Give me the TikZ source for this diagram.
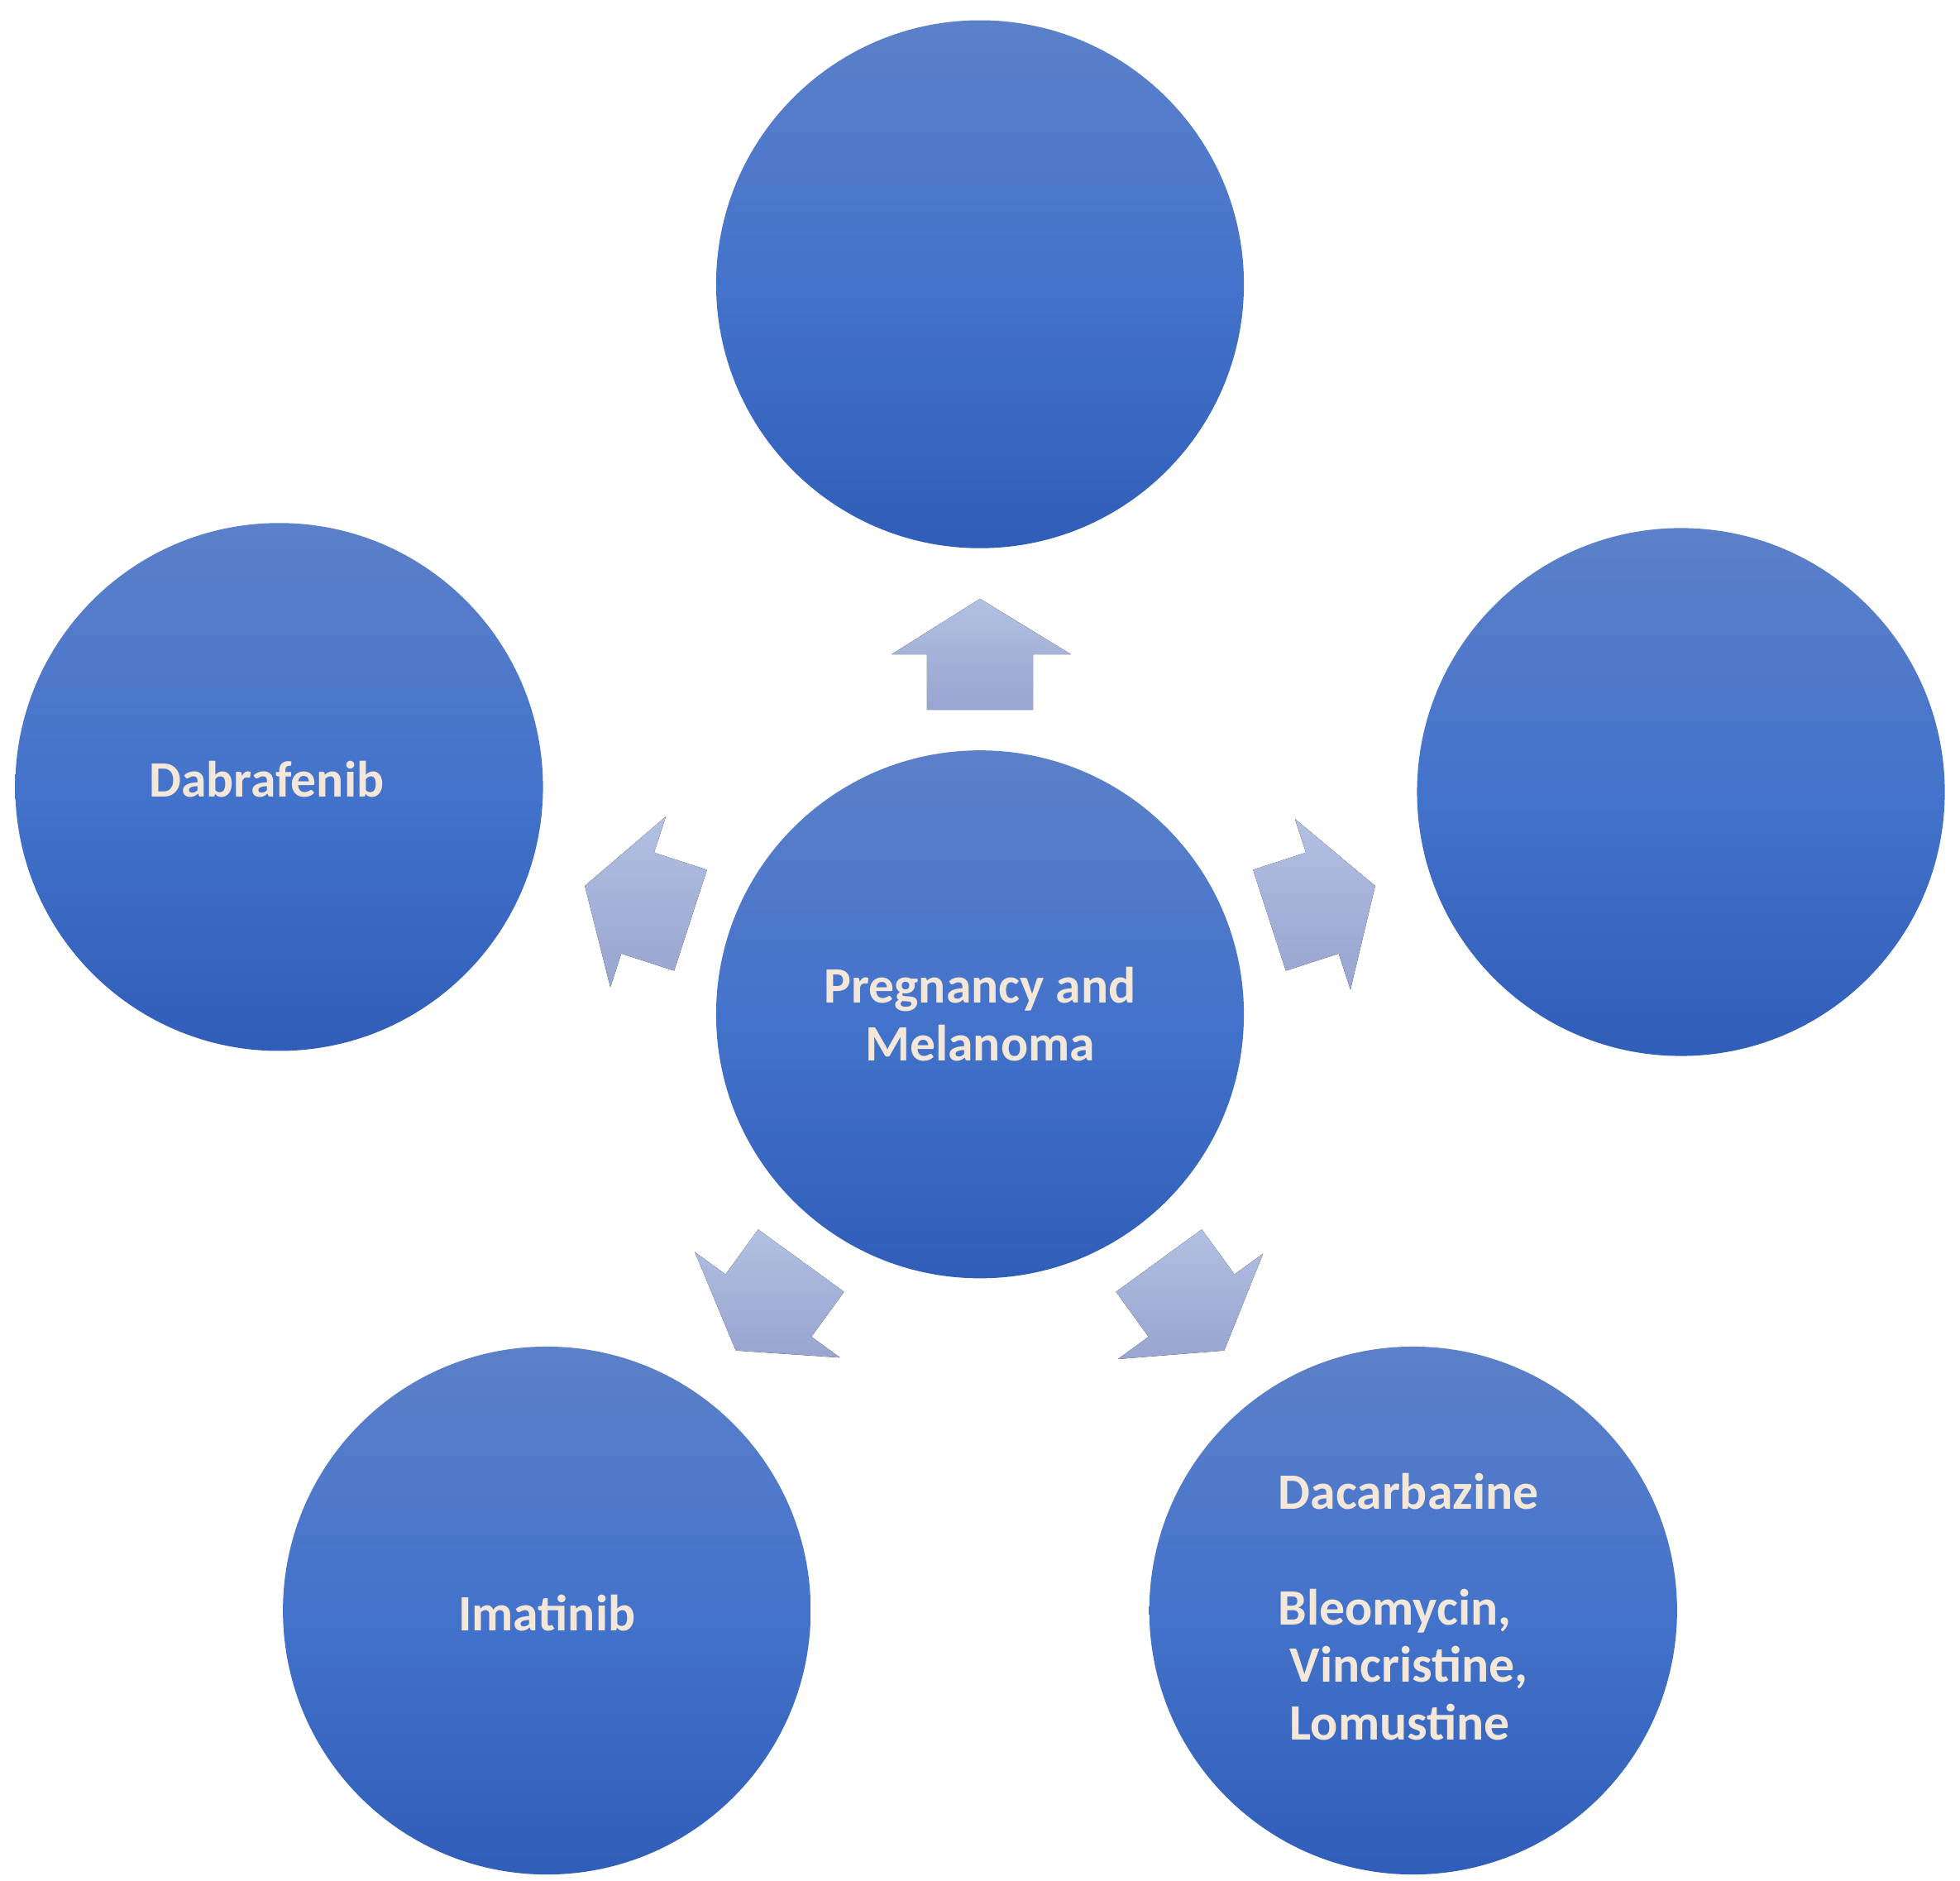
\documentclass[tikz,border=0pt]{standalone}
\usepackage{fontspec}
\setmainfont{Carlito}
\begin{document}
\begin{tikzpicture}[x=0.02cm,y=-0.02cm,
  txt/.style={text=cream,font=\fontsize{23}{26}\selectfont\bfseries},
  bub/.style={circle,minimum size=8.36cm,inner sep=0pt,draw=none,
    top color=bluetop,bottom color=bluebot,middle color=bluemid,
    txt,align=center},
  arr/.style={top color=arrtop,bottom color=arrbot,draw=none}]
\definecolor{bluetop}{HTML}{5C80C9}
\definecolor{bluemid}{HTML}{4473CB}
\definecolor{bluebot}{HTML}{2F5DB8}
\definecolor{cream}{HTML}{F3E7DA}
\definecolor{arrtop}{HTML}{B2C0E2}
\definecolor{arrbot}{HTML}{97A5D0}
\useasboundingbox (0,0) rectangle (1552,1489);
\foreach \a in {0,72,144,216,288}{
  \begin{scope}[rotate around={\a:(776,803)}]
    \fill[arr] (776,474) -- (848,518) -- (818,518) -- (818,562) -- (734,562) -- (734,518) -- (706,518) -- cycle;
  \end{scope}}
\node[bub] (top) at (776,225) {};
\node[bub] (center) at (776,803) {Pregnancy and\\Melanoma};
\node[bub] (right) at (1331,627) {};
\node[bub] (left) at (221,623) {};
\node[bub] (bl) at (433,1275) {};
\node[bub] (br) at (1119,1275) {};
\node[txt] (dab) at (211,617) {Dabrafenib};
\node[txt] (ima) at (433,1277) {Imatinib};
\node[txt,align=left,anchor=north west] (dac) at (1006,1160) {Dacarbazine\\[0.92cm]Bleomycin,\\\ Vincristine,\\\ Lomustine};
\end{tikzpicture}
\end{document}
